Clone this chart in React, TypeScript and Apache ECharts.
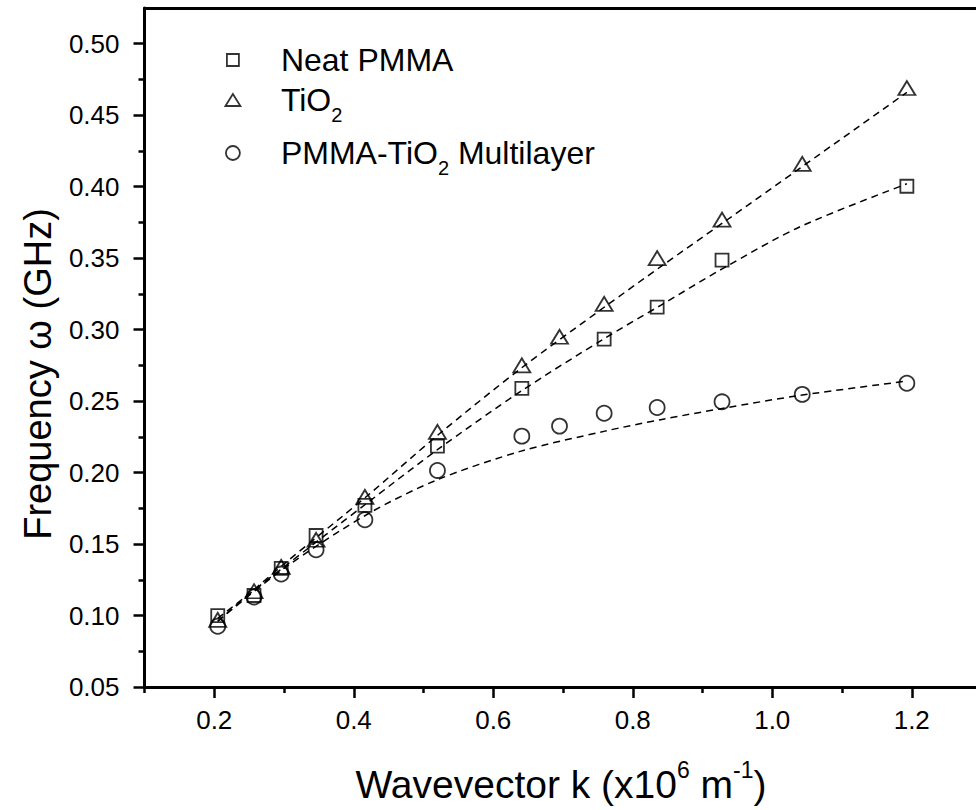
import React, { useEffect, useRef } from 'react';
import * as echarts from 'echarts';

// ---- data ----
const kAll = [0.205, 0.257, 0.296, 0.346, 0.416, 0.52, 0.641, 0.695, 0.759, 0.835, 0.928, 1.043, 1.193];
const tio2Freq = [0.097, 0.117, 0.134, 0.153, 0.183, 0.2285, 0.275, 0.295, 0.318, 0.35, 0.377, 0.416, 0.469];
const multiFreq = [0.0925, 0.113, 0.129, 0.146, 0.167, 0.2015, 0.2255, 0.2325, 0.2415, 0.2455, 0.2495, 0.2547, 0.2625];
const pmmaK = [0.205, 0.257, 0.296, 0.346, 0.416, 0.52, 0.641, 0.759, 0.835, 0.928, 1.193];
const pmmaFreq = [0.1, 0.114, 0.133, 0.156, 0.177, 0.2185, 0.2589, 0.2934, 0.3157, 0.3486, 0.4003];

// dashed fit curves
const fitK = [0.205, 0.3, 0.42, 0.52, 0.64, 0.76, 0.84, 0.93, 1.04, 1.193];
const pmmaFit = [0.098, 0.134, 0.179, 0.216, 0.257, 0.294, 0.317, 0.343, 0.372, 0.402];
const tio2Fit = [0.096, 0.136, 0.184, 0.226, 0.273, 0.316, 0.344, 0.375, 0.413, 0.466];
const multiFit = [0.096, 0.133, 0.171, 0.195, 0.215, 0.229, 0.237, 0.245, 0.254, 0.264];

// ticks
const xMajor = [0.2, 0.4, 0.6, 0.8, 1.0, 1.2];
const xMinor = [0.1, 0.3, 0.5, 0.7, 0.9, 1.1, 1.3];
const yMajor = [0.05, 0.1, 0.15, 0.2, 0.25, 0.3, 0.35, 0.4, 0.45, 0.5];
const yMinor = [0.075, 0.125, 0.175, 0.225, 0.275, 0.325, 0.375, 0.425, 0.475];

const FONT = 'Liberation Sans, Arial, Helvetica, sans-serif';
const zip = (xs: number[], ys: number[]) => xs.map((x, i) => [x, ys[i]]);

const gridBox = { left: 144.5, top: 8, width: 837, height: 679, outerBoundsMode: 'none', containLabel: false };
const markerStyle = { color: 'rgba(0,0,0,0)', borderColor: '#000', borderWidth: 1.8 };
const fitLine = { color: '#000', width: 1.5, type: [7, 5] as number[] };
const axisBlack = { color: '#000', width: 3 };

const legendBase = {
  orient: 'vertical',
  padding: 0,
  itemWidth: 86,
  itemHeight: 12,
  symbolKeepAspect: true,
  itemStyle: markerStyle,
  textStyle: {
    fontSize: 32,
    fontFamily: FONT,
    color: '#000',
    rich: {
      a: { fontSize: 32, fontFamily: FONT, color: '#000' },
      s: { fontSize: 20, fontFamily: FONT, color: '#000', padding: [30, 0, 0, 0] },
    },
  },
  formatter: (name: string) => {
    if (name === 'TiO2') return '{a|TiO}{s|2}';
    if (name === 'PMMA-TiO2 Multilayer') return '{a|PMMA-TiO}{s|2}{a| Multilayer}';
    return name;
  },
};

export default function App() {
  const ref = useRef<HTMLDivElement>(null);
  useEffect(() => {
    const chart = echarts.init(ref.current!, null, { renderer: 'svg' });
    const option: any = {
      animation: false,
      backgroundColor: '#fff',
      grid: [
        { ...gridBox, show: false },
        { ...gridBox, show: false },
      ],
      xAxis: [
        {
          type: 'value', gridIndex: 0, min: 0.1, max: 1.3, interval: 0.1, position: 'bottom',
          axisLine: { show: true, onZero: false, lineStyle: axisBlack },
          axisTick: { show: true, customValues: xMajor, length: 11, lineStyle: { color: '#000', width: 2.5 } },
          axisLabel: {
            customValues: xMajor, formatter: (v: number) => v.toFixed(1), margin: 20,
            fontSize: 26, fontFamily: FONT, color: '#000',
          },
          splitLine: { show: false },
        },
        {
          type: 'value', gridIndex: 1, min: 0.1, max: 1.3, interval: 0.1, position: 'bottom',
          axisLine: { show: false },
          axisTick: { show: true, customValues: xMinor, length: 6, lineStyle: { color: '#000', width: 2.5 } },
          axisLabel: { show: false },
          splitLine: { show: false },
        },
        {
          type: 'value', gridIndex: 0, min: 0.1, max: 1.3, interval: 0.1, position: 'top',
          axisLine: { show: true, onZero: false, lineStyle: axisBlack },
          axisTick: { show: false },
          axisLabel: { show: false },
          splitLine: { show: false },
        },
      ],
      yAxis: [
        {
          type: 'value', gridIndex: 0, min: 0.05, max: 0.525, interval: 0.05, position: 'left',
          axisLine: { show: true, onZero: false, lineStyle: axisBlack },
          axisTick: { show: true, customValues: yMajor, length: 11, lineStyle: { color: '#000', width: 2.5 } },
          axisLabel: {
            customValues: yMajor, formatter: (v: number) => v.toFixed(2), margin: 25,
            fontSize: 26, fontFamily: FONT, color: '#000',
          },
          splitLine: { show: false },
        },
        {
          type: 'value', gridIndex: 1, min: 0.05, max: 0.525, interval: 0.05, position: 'left',
          axisLine: { show: false },
          axisTick: { show: true, customValues: yMinor, length: 6, lineStyle: { color: '#000', width: 2.5 } },
          axisLabel: { show: false },
          splitLine: { show: false },
        },
      ],
      legend: [
        { ...legendBase, left: 226, top: 44, data: ['Neat PMMA'], icon: 'path://M0,0L10,0L10,10L0,10Z' },
        { ...legendBase, left: 224.5, top: 84, data: ['TiO2'], icon: 'path://M7.5,0L15,12L0,12Z' },
        { ...legendBase, left: 225, top: 137, data: ['PMMA-TiO2 Multilayer'], icon: 'path://M0,7a7,7 0 1,0 14,0a7,7 0 1,0 -14,0Z', itemHeight: 14 },
      ],
      series: [
        { name: 'Neat PMMA fit', type: 'line', data: zip(fitK, pmmaFit), smooth: 0.3, showSymbol: false, lineStyle: fitLine, z: 1, silent: true },
        { name: 'TiO2 fit', type: 'line', data: zip(fitK, tio2Fit), smooth: 0.3, showSymbol: false, lineStyle: fitLine, z: 1, silent: true },
        { name: 'Multilayer fit', type: 'line', data: zip(fitK, multiFit), smooth: 0.3, showSymbol: false, lineStyle: fitLine, z: 1, silent: true },
        { name: 'Neat PMMA', type: 'scatter', data: zip(pmmaK, pmmaFreq), symbol: 'rect', symbolSize: 13, itemStyle: markerStyle, z: 3 },
        { name: 'TiO2', type: 'scatter', data: zip(kAll, tio2Freq), symbol: 'triangle', symbolSize: [17, 14], itemStyle: markerStyle, z: 3 },
        { name: 'PMMA-TiO2 Multilayer', type: 'scatter', data: zip(kAll, multiFreq), symbol: 'circle', symbolSize: 15, itemStyle: markerStyle, z: 3 },
      ],
      graphic: [
        {
          type: 'text', x: 561, y: 784,
          style: {
            text: '{a|Wavevector k (x10}{s|6}{a| m}{s|-1}{a|)}',
            align: 'center', verticalAlign: 'middle',
            rich: {
              a: { fontSize: 39, fontFamily: FONT, fill: '#000' },
              s: { fontSize: 23, fontFamily: FONT, fill: '#000', padding: [0, 0, 28, 0] },
            },
          },
        },
        {
          type: 'text', x: 38, y: 374, rotation: Math.PI / 2,
          style: {
            text: 'Frequency ω (GHz)', align: 'center', verticalAlign: 'middle',
            fontSize: 38, fontFamily: FONT, fill: '#000',
          },
        },
      ],
    };
    chart.setOption(option);
    return () => chart.dispose();
  }, []);
  return (
    <div style={{ position: 'absolute', left: 0, top: 0, width: 976, height: 810, overflow: 'hidden', background: '#fff' }}>
      <div ref={ref} style={{ position: 'absolute', left: 0, top: 0, width: 1000, height: 810 }} />
    </div>
  );
}
